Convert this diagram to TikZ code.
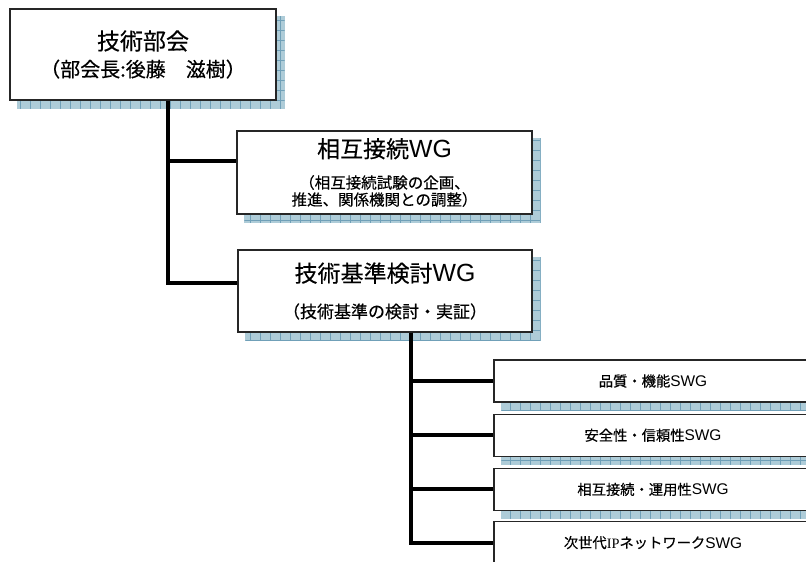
\documentclass[tikz,border=0pt]{standalone}
\usepackage{fontspec}
\setmainfont{Noto Sans CJK JP}[FakeBold=0.4]
\newfontfamily\ipfont{Liberation Serif}
\newfontfamily\latfont[Scale=1.08]{Liberation Sans}
\usetikzlibrary{positioning,backgrounds,calc}

\definecolor{shadowblue}{RGB}{174,204,216}
\definecolor{gridblue}{RGB}{112,160,184}
\newcommand{\titlejp}{\fontsize{23}{27}\selectfont}
\newcommand{\subjp}{\fontsize{20}{24}\selectfont}
\newcommand{\notejp}{\fontsize{15.5}{17}\selectfont}
\newcommand{\swgjp}{\fontsize{14.3}{17}\selectfont}

\tikzset{
	orgbox/.style={draw=black!85, line width=1.2pt, fill=white, rectangle, align=center, inner sep=0pt},
	swgbox/.style={orgbox, minimum width=318pt, minimum height=42pt, font=\swgjp},
	shadowbox/.style={fill=shadowblue, path picture={
		\draw[gridblue, line width=0.8pt, step=10pt] (path picture bounding box.south west) grid (path picture bounding box.north east);}},
	linkline/.style={line width=4pt, black}
}

\begin{document}
\begin{tikzpicture}[x=1pt, y=-1pt]
	\useasboundingbox (0,0) rectangle (806,562);
	\clip (0,0) rectangle (806,562);
	
	\node[orgbox, font=\subjp, minimum width=266pt, minimum height=91pt] (top) at (143,54.5)
		{{\titlejp 技術部会}\\[3pt]（部会長:後藤　滋樹）};
	\node[orgbox, font=\notejp, minimum width=295pt, minimum height=83pt] (wg1) at (384.5,172.5)
		{{\titlejp 相互接続{\latfont WG}}\\[14pt]（相互接続試験の企画、\\推進、関係機関との調整）};
	\node[orgbox, font=\fontsize{17}{20}\selectfont, minimum width=294pt, minimum height=82pt] (wg2) at (385,291)
		{{\titlejp 技術基準検討{\latfont WG}}\\[16pt]（技術基準の検討・実証）};
	
	\node[swgbox] (swg1) at (653,381) {品質・機能{\latfont SWG}};
	\node[swgbox, below=11pt of swg1] (swg2) {安全性・信頼性{\latfont SWG}};
	\node[swgbox, below=11pt of swg2] (swg3) {相互接続・運用性{\latfont SWG}};
	\node[swgbox, below=10pt of swg3] (swg4) {次世代{\ipfont IP}ネットワーク{\latfont SWG}};
	
	% shadows behind the boxes
	\begin{scope}[on background layer]
		\clip (0,0) rectangle (806,562);
		\foreach \n in {top,wg1,wg2,swg1,swg2,swg3,swg4}
			\fill[shadowbox] ([shift={(8,8)}]\n.north west) rectangle ([shift={(8,8)}]\n.south east);
	\end{scope}
	
	\coordinate (trunk) at ($(top.south west)+(159,0)$);
	\coordinate (branch) at ($(wg2.south west)+(174,0)$);
	
	\draw[linkline] (trunk) |- ([yshift=12pt]wg1.west);
	\draw[linkline] (trunk) |- ([yshift=8pt]wg2.west);
	\foreach \i in {1,...,4}
		\draw[linkline] (branch) |- (swg\i.west);
\end{tikzpicture}
\end{document}
